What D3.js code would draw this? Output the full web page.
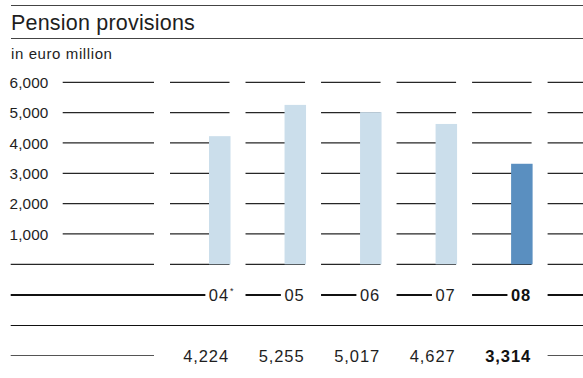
<!DOCTYPE html>
<html>
<head>
<meta charset="utf-8">
<script src="https://cdn.jsdelivr.net/npm/d3@7"></script>
<style>
  html, body { margin: 0; padding: 0; background: #fff; }
  svg { display: block; font-family: "Liberation Sans", Arial, Helvetica, sans-serif; }
</style>
</head>
<body>
<svg id="chart" width="583" height="378"></svg>
<script>
// Pension provisions, in euro million
const years = ["04", "05", "06", "07", "08"];
const values = [4224, 5255, 5017, 4627, 3314];
const yTicks = [1000, 2000, 3000, 4000, 5000, 6000];
const currentYear = "08";
const footnoteYear = "04";

const W = 583, H = 378;
const left = 10.7, right = W;
const svg = d3.select("#chart");
const fmt = d3.format(",");

const ink = "#1e1e1e";
const barLight = "#cbdeeb";
const barDark = "#5a8fc0";

// Column bands: one band per year, with a grid segment running across it
const x = d3.scaleBand()
  .domain(years)
  .range([170, 531.6])
  .paddingInner(16 / 75.5)
  .paddingOuter(0);
const step = x.step();
const bw = x.bandwidth();
const gap = step - bw;
const barW = 21.5;

const y = d3.scaleLinear().domain([0, 6000]).range([264.3, 82.3]);

// Heading rules and title
svg.append("line").attr("x1", 11).attr("x2", right).attr("y1", 5.5).attr("y2", 5.5)
  .attr("stroke", "#444").attr("stroke-width", 1);
svg.append("line").attr("x1", 11).attr("x2", right).attr("y1", 38.5).attr("y2", 38.5)
  .attr("stroke", "#444").attr("stroke-width", 1);
svg.append("text").attr("x", 11).attr("y", 29.5)
  .attr("font-size", 21.5).attr("fill", ink).attr("letter-spacing", 0.2)
  .text("Pension provisions");
svg.append("text").attr("x", 11).attr("y", 58.5)
  .attr("font-size", 15).attr("fill", ink).attr("letter-spacing", 0.6)
  .text("in euro million");

// Segmented grid: a stub in the label column, one per band, and a tail
const labelColEnd = x(years[0]) - gap;
const tailStart = x(years[years.length - 1]) + step;
const segments = [];
[0].concat(yTicks).forEach(t => {
  segments.push({ t, x1: t === 0 ? left : 62.7, x2: labelColEnd });
  years.forEach(yr => segments.push({ t, x1: x(yr), x2: x(yr) + bw }));
  segments.push({ t, x1: tailStart, x2: right });
});
svg.append("g").selectAll("line").data(segments).join("line")
  .attr("x1", d => d.x1).attr("x2", d => d.x2)
  .attr("y1", d => y(d.t)).attr("y2", d => y(d.t))
  .attr("stroke", "#262626").attr("stroke-width", 1.2);

// Y tick labels
svg.append("g").selectAll("text").data(yTicks).join("text")
  .attr("x", 9.5).attr("y", d => y(d) + 5.6)
  .attr("font-size", 15.3).attr("fill", ink).attr("letter-spacing", 0.15)
  .text(d => fmt(d));

// Bars, aligned to the right edge of each band
svg.append("g").selectAll("rect").data(years).join("rect")
  .attr("x", (d) => x(d) + bw - barW + 1)
  .attr("width", barW)
  .attr("y", (d, i) => y(values[i]))
  .attr("height", (d, i) => y(0) - y(values[i]))
  .attr("fill", d => d === currentYear ? barDark : barLight);

// Year row: heavy rule broken by the year labels
const yearRowY = 295;
const yearG = svg.append("g");
const labelRight = d => x(d) + bw - 0.5;
const yearTexts = yearG.selectAll("text").data(years).join("text")
  .attr("x", labelRight)
  .attr("y", yearRowY + 5.8)
  .attr("text-anchor", "end")
  .attr("font-size", 16.5)
  .attr("letter-spacing", 0.9)
  .attr("font-weight", d => d === currentYear ? "bold" : "normal")
  .attr("fill", d => d === currentYear ? "#111" : ink)
  .text(d => d);
// footnote marker
yearG.append("text")
  .attr("x", labelRight(footnoteYear) + 1)
  .attr("y", yearRowY - 1)
  .attr("font-size", 9).attr("fill", ink)
  .text("*");

const rowSegs = [];
yearTexts.each(function (d, i) {
  const bb = this.getBBox();
  rowSegs.push({ x1: i === 0 ? left : x(d), x2: bb.x - 3.5 });
});
rowSegs.push({ x1: tailStart, x2: right });
yearG.selectAll("line").data(rowSegs).join("line")
  .attr("x1", d => d.x1).attr("x2", d => d.x2)
  .attr("y1", yearRowY).attr("y2", yearRowY)
  .attr("stroke", "#111").attr("stroke-width", 2.2);

// Rule above the value row
svg.append("line").attr("x1", left).attr("x2", right).attr("y1", 325.5).attr("y2", 325.5)
  .attr("stroke", "#111").attr("stroke-width", 1.1);

// Value row
const valRowY = 355.5;
svg.append("g").selectAll("line")
  .data([{ x1: left, x2: labelColEnd }, { x1: tailStart, x2: right }])
  .join("line")
  .attr("x1", d => d.x1).attr("x2", d => d.x2)
  .attr("y1", valRowY).attr("y2", valRowY)
  .attr("stroke", "#555").attr("stroke-width", 1);
svg.append("g").selectAll("text").data(years).join("text")
  .attr("x", d => x(d) + bw - 0.5)
  .attr("y", 362)
  .attr("text-anchor", "end")
  .attr("font-size", 16.5)
  .attr("letter-spacing", 0.9)
  .attr("font-weight", d => d === currentYear ? "bold" : "normal")
  .attr("fill", d => d === currentYear ? "#111" : ink)
  .text((d, i) => fmt(values[i]));
</script>
</body>
</html>
